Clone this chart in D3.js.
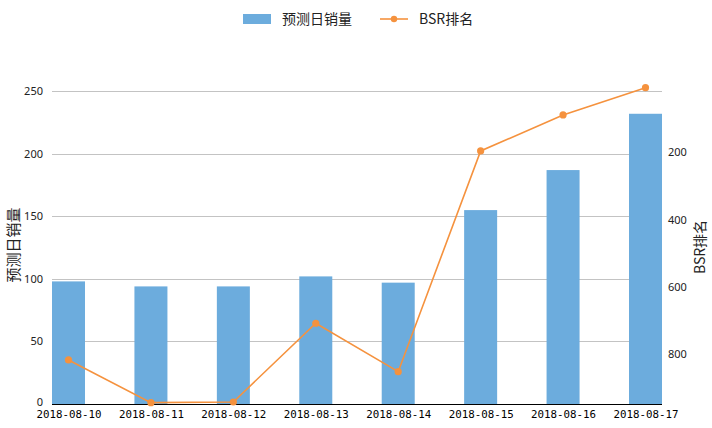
<!DOCTYPE html>
<html><head><meta charset="utf-8">
<script src="https://cdn.jsdelivr.net/npm/d3@7"></script>
<style>body{margin:0;background:#fff}svg{display:block}</style>
</head><body>
<svg id="c" width="712" height="428"></svg>
<script>
const categories = ["2018-08-10","2018-08-11","2018-08-12","2018-08-13","2018-08-14","2018-08-15","2018-08-16","2018-08-17"];
const salesValues = [98, 94, 94, 102, 97, 155, 187, 232];
const bsrValues = [817, 944, 942, 708, 852, 196, 89, 8];
const leftTicks = [0, 50, 100, 150, 200, 250];
const rightTicks = [200, 400, 600, 800];
const seriesNames = ["预测日销量", "BSR排名"];

const barColor = "#6cacdd", lineColor = "#f5923e";
const svg = d3.select("#c");
const L = 52, R = 662, T = 85, B = 404;
const x = d3.scalePoint().domain(categories).range([L + 16.5, R - 16.5]);
const yL = d3.scaleLinear().domain([0, 255]).range([B, T]);
const yR = d3.scaleLinear().domain([0, 948]).range([T, B]);
const barW = 33;

// grid
svg.append("g").selectAll("line").data(leftTicks.filter(d => d > 0)).join("line")
  .attr("x1", L).attr("x2", R).attr("y1", d => Math.round(yL(d)) + 0.5).attr("y2", d => Math.round(yL(d)) + 0.5)
  .attr("stroke", "#c3c3c3").attr("stroke-width", 1);

// bars
svg.append("g").selectAll("rect").data(salesValues).join("rect")
  .attr("x", (d, i) => x(categories[i]) - barW / 2).attr("width", barW)
  .attr("y", d => yL(d)).attr("height", d => B - yL(d)).attr("fill", barColor);

// bottom axis
const xAxis = svg.append("g").attr("transform", `translate(0,${B})`).call(d3.axisBottom(x).tickSize(0).tickPadding(6));
xAxis.select(".domain").attr("d", `M${L},0.5H${R}`).attr("stroke", "#000");
xAxis.selectAll("text").attr("font-family", "DejaVu Sans Mono").attr("font-size", 10.8).attr("fill", "#000");

// left axis
const yAxisL = svg.append("g").attr("transform", `translate(${L},0)`).call(d3.axisLeft(yL).tickValues(leftTicks).tickSize(0).tickPadding(9));
yAxisL.select(".domain").remove();
yAxisL.selectAll("text").attr("font-family", "Noto Sans, DejaVu Sans").attr("font-size", 11).attr("fill", "#222")
  .attr("dy", d => d === 0 ? "0.1em" : "0.32em");

// right axis
const yAxisR = svg.append("g").attr("transform", `translate(${R},0)`).call(d3.axisRight(yR).tickValues(rightTicks).tickSize(0).tickPadding(6));
yAxisR.select(".domain").remove();
yAxisR.selectAll("text").attr("font-family", "Noto Sans, DejaVu Sans").attr("font-size", 11).attr("fill", "#222");

// line
const line = d3.line().x((d, i) => x(categories[i])).y(d => yR(d));
svg.append("path").datum(bsrValues).attr("d", line).attr("fill", "none").attr("stroke", lineColor).attr("stroke-width", 1.6);
svg.append("g").selectAll("circle").data(bsrValues).join("circle")
  .attr("cx", (d, i) => x(categories[i])).attr("cy", d => yR(d)).attr("r", 3.6).attr("fill", lineColor);

// axis titles
svg.append("text").attr("transform", `translate(19,${245}) rotate(-90)`).attr("text-anchor", "middle")
  .attr("font-family", "Noto Sans CJK SC").attr("font-size", 15).attr("fill", "#222").text(seriesNames[0]);
svg.append("text").attr("transform", `translate(705,${247}) rotate(-90)`).attr("text-anchor", "middle")
  .attr("font-family", "Noto Sans CJK SC").attr("font-size", 14).attr("fill", "#222").text(seriesNames[1]);

// legend
const lg = svg.append("g");
lg.append("rect").attr("x", 243).attr("y", 14).attr("width", 28).attr("height", 10).attr("fill", barColor);
lg.append("text").attr("x", 282).attr("y", 24).attr("font-family", "Noto Sans CJK SC").attr("font-size", 14).attr("fill", "#222").text(seriesNames[0]);
lg.append("line").attr("x1", 380).attr("x2", 408).attr("y1", 19).attr("y2", 19).attr("stroke", lineColor).attr("stroke-width", 1.6);
lg.append("circle").attr("cx", 394).attr("cy", 19).attr("r", 3.2).attr("fill", lineColor);
lg.append("text").attr("x", 419).attr("y", 24).attr("font-family", "Noto Sans CJK SC").attr("font-size", 14).attr("fill", "#222").text(seriesNames[1]);
</script>
</body></html>
